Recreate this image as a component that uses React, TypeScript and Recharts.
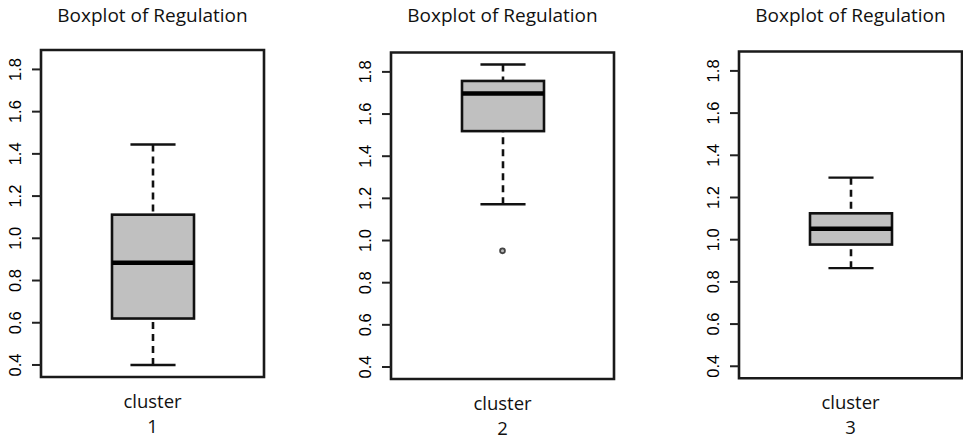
import React from "react";
import { ComposedChart, Bar, Scatter, XAxis, YAxis, ReferenceArea } from "recharts";

const clusters = ["1", "2", "3"];
const lowerWhisker = [0.4, 1.172, 0.865];
const lowerQuartile = [0.62, 1.519, 0.977];
const medians = [0.884, 1.697, 1.052];
const upperQuartile = [1.112, 1.757, 1.125];
const upperWhisker = [1.444, 1.835, 1.294];
const outliers: (number | null)[] = [null, 0.951, null];
const yTicks = [0.4, 0.6, 0.8, 1.0, 1.2, 1.4, 1.6, 1.8];
const yDomain: [number, number] = [0.343, 1.892];
const title = "Boxplot of Regulation";
const xLabel = "cluster";

// where each panel sits on the page
const panels = [
  { left: 0, width: 330, top: 50, bottom: 377 },
  { left: 350, width: 330, top: 52.5, bottom: 379 },
  { left: 698, width: 265, top: 51.5, bottom: 378.3 },
];

const FRAME_W = 223;
const AXIS_W = 41;
const XAXIS_H = 55;
const TEXT_FONT = "'Open Sans', 'Noto Sans', sans-serif";
const NUM_FONT = "'Liberation Sans', Arial, sans-serif";

const BoxShape = (props: any) => {
  const { x, y, width, height, payload } = props;
  const top = Math.min(y, y + height);
  const h = Math.abs(height);
  const [lo, hi] = payload.range;
  const py = (v: number) => top + (h * (hi - v)) / (hi - lo);
  const cx = x + width / 2;
  const cap = width * 0.275;
  return (
    <g>
      <line x1={cx} x2={cx} y1={py(hi)} y2={py(payload.q3)} stroke="#111" strokeWidth={2.6} strokeDasharray="7 5" />
      <line x1={cx} x2={cx} y1={py(lo)} y2={py(payload.q1)} stroke="#111" strokeWidth={2.6} strokeDasharray="7 5" />
      <line x1={cx - cap} x2={cx + cap} y1={py(hi)} y2={py(hi)} stroke="#111" strokeWidth={2.4} />
      <line x1={cx - cap} x2={cx + cap} y1={py(lo)} y2={py(lo)} stroke="#111" strokeWidth={2.4} />
      <rect x={x} y={py(payload.q3)} width={width} height={py(payload.q1) - py(payload.q3)} fill="#c0c0c0" stroke="#111" strokeWidth={2.6} />
      <line x1={x} x2={x + width} y1={py(payload.median)} y2={py(payload.median)} stroke="#000" strokeWidth={4.5} />
    </g>
  );
};

const OutlierDot = (props: any) => (
  <circle cx={props.cx} cy={props.cy} r={2.4} fill="#bbb" stroke="#444" strokeWidth={1.8} />
);

const YTick = (props: any) => {
  const { x, y, payload } = props;
  return (
    <text
      x={x}
      y={y}
      transform={`rotate(-90, ${x}, ${y})`}
      textAnchor="middle"
      fontFamily={NUM_FONT}
      fontSize={16.5}
      fill="#000"
    >
      {Number(payload.value).toFixed(1)}
    </text>
  );
};

const XTick = (props: any) => {
  const { x, y, payload } = props;
  return (
    <g fontFamily={TEXT_FONT} fontSize={18.5} fill="#111" textAnchor="middle">
      <text x={x} y={y + 23}>{xLabel}</text>
      <text x={x} y={y + 48}>{payload.value}</text>
    </g>
  );
};

function Panel({ i }: { i: number }) {
  const p = panels[i];
  const data = [
    {
      name: clusters[i],
      range: [lowerWhisker[i], upperWhisker[i]],
      q1: lowerQuartile[i],
      median: medians[i],
      q3: upperQuartile[i],
      outlier: outliers[i],
    },
  ];
  const frameCenter = p.left + AXIS_W + FRAME_W / 2;
  return (
    <>
      <div
        style={{
          position: "absolute",
          left: frameCenter - 150,
          width: 300,
          top: 3,
          textAlign: "center",
          fontFamily: TEXT_FONT,
          fontSize: 19,
          lineHeight: "24px",
          color: "#111",
        }}
      >
        {title}
      </div>
      <div style={{ position: "absolute", left: p.left, top: 0 }}>
        <ComposedChart
          width={p.width}
          height={439}
          data={data}
          margin={{ top: p.top, left: 0, right: p.width - AXIS_W - FRAME_W, bottom: 439 - p.bottom - XAXIS_H }}
        >
          <XAxis dataKey="name" type="category" axisLine={false} tickLine={false} height={XAXIS_H} tick={<XTick />} interval={0} />
          <YAxis
            type="number"
            domain={yDomain}
            ticks={yTicks}
            allowDataOverflow
            width={AXIS_W}
            axisLine={false}
            tickSize={9}
            tickMargin={11}
            tickLine={{ stroke: "#222", strokeWidth: 2 }}
            tick={<YTick />}
          />
          <ReferenceArea y1={yDomain[0]} y2={yDomain[1]} fill="none" stroke="#1a1a1a" strokeWidth={2.6} ifOverflow="visible" />
          <Bar dataKey="range" barSize={82} shape={<BoxShape />} isAnimationActive={false} />
          {outliers[i] != null && (
            <Scatter dataKey="outlier" shape={<OutlierDot />} isAnimationActive={false} />
          )}
        </ComposedChart>
      </div>
    </>
  );
}

export default function App() {
  return (
    <div style={{ position: "absolute", left: 0, top: 0, width: 963, height: 439, overflow: "hidden", background: "#fff" }}>
      {clusters.map((c, i) => (
        <Panel key={c} i={i} />
      ))}
    </div>
  );
}
